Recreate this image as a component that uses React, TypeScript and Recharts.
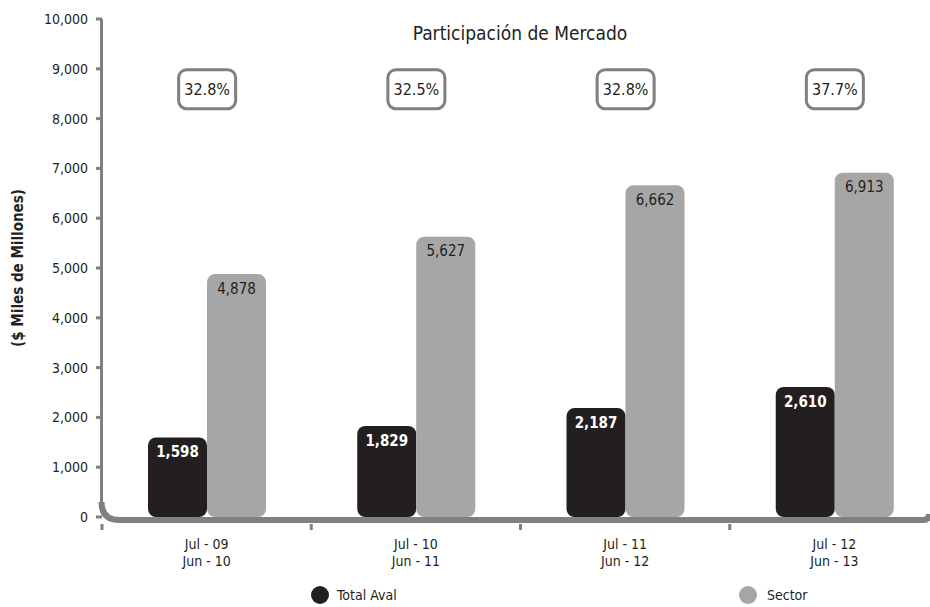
import { Bar, BarChart, LabelList, ReferenceArea, ReferenceDot, XAxis, YAxis } from 'recharts'

const periodoInicio = ['Jul - 09', 'Jul - 10', 'Jul - 11', 'Jul - 12']
const periodoFin = ['Jun - 10', 'Jun - 11', 'Jun - 12', 'Jun - 13']
const totalAval = [1598, 1829, 2187, 2610]
const sector = [4878, 5627, 6662, 6913]
const participacion = ['32.8%', '32.5%', '32.8%', '37.7%']
const yTicks = [0, 1000, 2000, 3000, 4000, 5000, 6000, 7000, 8000, 9000, 10000]

const BLACK = '#231f20'
const GREY = '#a7a6a6'
const AXIS = '#808080'
const FONT = '"Liberation Sans Narrow", "DejaVu Sans Condensed", "Roboto Condensed", sans-serif'
const BOX_LEVEL = 8600

const data = periodoInicio.map((p, i) => ({
  periodo: p,
  total: totalAval[i],
  sector: sector[i],
}))

const fmt = (v: number) => v.toLocaleString('en-US')

function XTick(props: any) {
  const { x, y, payload, index } = props
  const half = payload?.offset ?? 104
  return (
    <g>
      <rect x={x - half - 1.5} y={y - 1} width={3} height={6} fill={AXIS} />
      <text x={x} y={y + 24} textAnchor='middle' fontSize={14} fill={BLACK} fontFamily={FONT}>
        <tspan x={x}>{payload.value}</tspan>
        <tspan x={x} dy={17}>{periodoFin[index]}</tspan>
      </text>
    </g>
  )
}

function Frame(props: any) {
  const { x, y, width, height } = props
  const left = x - 0.5
  const bottom = y + height + 3
  const r = 18
  const right = x + width - 10
  return (
    <g>
      <path d={`M${left},${y} L${left},${bottom - r}`} stroke={AXIS} strokeWidth={3} fill='none' />
      <path
        d={`M${left},${bottom - r} Q${left},${bottom} ${left + r},${bottom} L${right - 6},${bottom} Q${right},${bottom} ${right},${bottom - 6}`}
        stroke={AXIS}
        strokeWidth={6}
        fill='none'
      />
    </g>
  )
}

function PctBox(props: any) {
  const { cx, cy, label } = props
  return (
    <g>
      <rect x={cx - 28} y={cy - 19} width={57} height={39} rx={8} fill='#fff' stroke={AXIS} strokeWidth={3} />
      <text x={cx + 0.5} y={cy + 6} textAnchor='middle' fontSize={16} fill={BLACK} fontFamily={FONT}>
        {label}
      </text>
    </g>
  )
}

export default function App() {
  return (
    <div style={{ position: 'absolute', left: 0, top: 0, width: 930, height: 607, overflow: 'hidden', background: '#fff', fontFamily: FONT }}>
      <div style={{ position: 'absolute', left: 320, width: 400, top: 22, textAlign: 'center', fontSize: 19, color: BLACK }}>
        Participación de Mercado
      </div>
      <BarChart
        width={940}
        height={607}
        data={data}
        margin={{ top: 19, right: 1, left: 2, bottom: 40 }}
        barSize={59}
        barGap={0}
      >
        <XAxis dataKey='periodo' interval={0} tickLine={false} axisLine={false} height={50} tick={<XTick />} />
        <YAxis
          domain={[0, 10000]}
          ticks={yTicks}
          interval={0}
          width={100}
          axisLine={false}
          tickLine={{ stroke: AXIS, strokeWidth: 3 }}
          tickSize={6}
          tickMargin={8}
          tickFormatter={fmt}
          tick={{ fontSize: 14, fill: BLACK, fontFamily: FONT }}
          label={{
            content: (p: any) => {
              const vb = p.viewBox
              const cx = 18
              const cy = vb.y + vb.height / 2
              return (
                <text x={cx} y={cy} transform={`rotate(-90, ${cx}, ${cy})`} textAnchor='middle' dominantBaseline='central' fontSize={15} fontWeight='bold' fill={BLACK} fontFamily={FONT}>
                  ($ Miles de Millones)
                </text>
              )
            },
          }}
        />
        <Bar dataKey='total' name='Total Aval' fill={BLACK} radius={[8, 8, 8, 8]} isAnimationActive={false}>
          <LabelList dataKey='total' position='insideTop' offset={9} formatter={fmt} fill='#fff' fontSize={15} fontWeight='bold' fontFamily={FONT} />
        </Bar>
        <Bar dataKey='sector' name='Sector' fill={GREY} radius={[8, 8, 8, 8]} isAnimationActive={false}>
          <LabelList dataKey='sector' position='insideTop' offset={9} formatter={fmt} fill={BLACK} fontSize={15} fontFamily={FONT} />
        </Bar>
        <ReferenceArea y1={0} y2={10000} fill='none' shape={<Frame />} />
        {periodoInicio.map((p, i) => (
          <ReferenceDot key={p} x={p} y={BOX_LEVEL} shape={<PctBox label={participacion[i]} />} />
        ))}
      </BarChart>
      <div style={{ position: 'absolute', top: 586, left: 311, display: 'flex', alignItems: 'center', fontSize: 14, color: BLACK }}>
        <span style={{ width: 18, height: 18, borderRadius: 9, background: BLACK, marginRight: 8 }} />
        Total Aval
      </div>
      <div style={{ position: 'absolute', top: 586, left: 739, display: 'flex', alignItems: 'center', fontSize: 14, color: BLACK }}>
        <span style={{ width: 18, height: 18, borderRadius: 9, background: GREY, marginRight: 10 }} />
        Sector
      </div>
    </div>
  )
}
